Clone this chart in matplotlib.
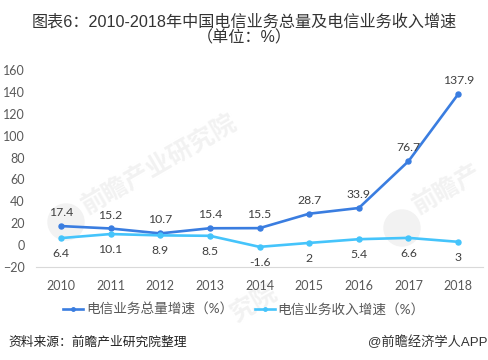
"""Telecom business volume and revenue growth, China 2010-2018."""

import matplotlib
matplotlib.use("Agg")
import matplotlib.pyplot as plt
from matplotlib.lines import Line2D
from matplotlib.patches import Ellipse

plt.rcParams["font.family"] = ["Lato", "Noto Sans CJK SC", "DejaVu Sans"]

YEARS = ["2010", "2011", "2012", "2013", "2014", "2015", "2016", "2017", "2018"]
VOLUME_GROWTH = [17.4, 15.2, 10.7, 15.4, 15.5, 28.7, 33.9, 76.7, 137.9]
REVENUE_GROWTH = [6.4, 10.1, 8.9, 8.5, -1.6, 2, 5.4, 6.6, 3]
VOLUME_LABELS = ["17.4", "15.2", "10.7", "15.4", "15.5", "28.7", "33.9", "76.7", "137.9"]
REVENUE_LABELS = ["6.4", "10.1", "8.9", "8.5", "-1.6", "2", "5.4", "6.6", "3"]
YTICKS = [-20, 0, 20, 40, 60, 80, 100, 120, 140, 160]

TITLE = "图表6：2010-2018年中国电信业务总量及电信业务收入增速\n（单位：%）"
VOLUME_NAME = "电信业务总量增速（%）"
REVENUE_NAME = "电信业务收入增速（%）"
SOURCE = "资料来源：前瞻产业研究院整理"
CREDIT = "@前瞻经济学人APP"

W, H = 489, 360
BLUE = "#3a7de0"
CYAN = "#45c4fb"
GRAY = "#595959"
MARK = "#f2f2f2"


def main():
    fig = plt.figure(figsize=(W / 100, H / 100), dpi=100)
    ax = fig.add_axes([36 / W, 1 - 267 / H, 447 / W, 197 / H])
    ax.set_zorder(2)
    ax.patch.set_alpha(0)
    x = list(range(len(YEARS)))

    # watermarks sit behind the axes
    for px, py, label in [(84, 208, "前瞻产业研究院"), (415, 208, "前瞻产"), (232, 316, "究院")]:
        fig.text(px / W, 1 - py / H, label, fontsize=18, color=MARK, rotation=30,
                 rotation_mode="anchor", ha="left", va="center", fontweight="bold", zorder=-1)
    for px, py in [(66, 222), (402, 228)]:
        fig.add_artist(Ellipse((px / W, 1 - py / H), 36 / W, 36 / H, color=MARK, zorder=-1))

    ax.plot(x, VOLUME_GROWTH, color=BLUE, lw=1.9, marker="o", ms=3.6, clip_on=False)
    ax.plot(x, REVENUE_GROWTH, color=CYAN, lw=1.9, marker="o", ms=3.6, clip_on=False)

    for i in x:
        ax.annotate(VOLUME_LABELS[i], (i, VOLUME_GROWTH[i]), xytext=(0, 9.7),
                    textcoords="offset points", ha="center", va="center",
                    fontsize=8.8, color="#404040")
        ax.annotate(REVENUE_LABELS[i], (i, REVENUE_GROWTH[i]), xytext=(0, -11.2),
                    textcoords="offset points", ha="center", va="center",
                    fontsize=8.8, color="#404040")

    ax.set_xlim(-0.5, 8.5)
    ax.set_ylim(-20, 160)
    ax.set_xticks(x, YEARS)
    ax.set_yticks(YTICKS)
    ax.tick_params(length=0, labelsize=9, labelcolor=GRAY)
    ax.tick_params(axis="x", pad=9)
    ax.tick_params(axis="y", pad=8)
    for name in ["top", "right", "left"]:
        ax.spines[name].set_visible(False)
    ax.spines["bottom"].set_color("#d9d9d9")

    fig.text(244 / W, 1 - 29.5 / H, TITLE, ha="center", va="center", fontsize=11.6,
             color="#333333", linespacing=1.02,
             family=["Liberation Sans", "Noto Sans CJK SC"])

    handles = [Line2D([], [], color=BLUE, lw=1.9, marker="o", ms=2.5),
               Line2D([], [], color=CYAN, lw=1.9, marker="o", ms=2.5)]
    fig.legend(handles, [VOLUME_NAME, REVENUE_NAME], loc="center", ncol=2,
               bbox_to_anchor=(244 / W, 1 - 309 / H), frameon=False, fontsize=9.8,
               labelcolor=GRAY, handlelength=1.45, handletextpad=0.2, columnspacing=1.6)

    fig.text(8 / W, 1 - 342 / H, SOURCE, ha="left", va="center", fontsize=9.2,
             color="#222222")
    fig.text(488 / W, 1 - 342 / H, CREDIT, ha="right", va="center", fontsize=9.5,
             color="#333333", family=["Liberation Sans", "Noto Sans CJK SC"])

    fig.savefig("out.png", dpi=100)


if __name__ == "__main__":
    main()
